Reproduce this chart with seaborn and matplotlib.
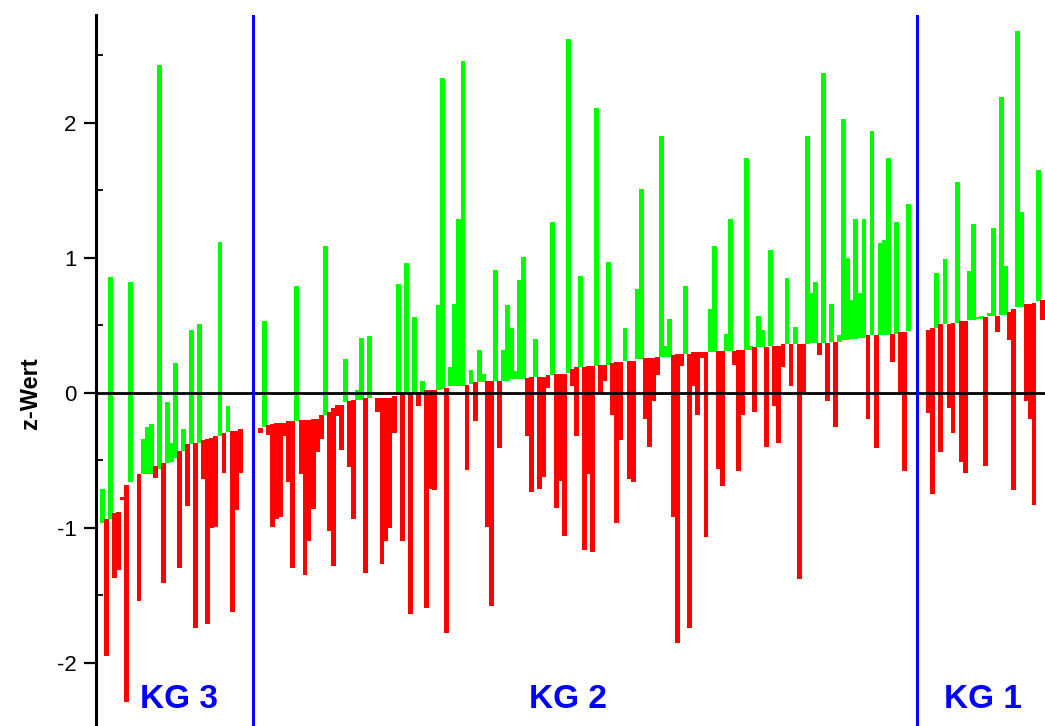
import numpy as np
import pandas as pd
import matplotlib
matplotlib.use("Agg")
import matplotlib.pyplot as plt
from matplotlib.ticker import MultipleLocator
import seaborn as sns

# ---------------- data (z-values: start value -> end value per subject) ----------------
kg3_base = [-0.96, -0.93, -0.93, -0.89, -0.88, -0.77, -0.68, -0.66, -0.62, -0.60,
            -0.60, -0.60, -0.60, -0.54, -0.56, -0.52, -0.52, -0.51, -0.48, -0.43,
            -0.43, -0.38, -0.38, -0.37, -0.37, -0.35, -0.34, -0.33, -0.32, -0.32,
            -0.30, -0.29, -0.28, -0.28, -0.27]
kg3_end = [-0.71, -1.95, 0.86, -1.37, -1.31, -0.79, -2.29, 0.82, -0.62, -1.54,
           -0.34, -0.25, -0.23, -0.63, 2.43, -1.41, -0.07, -0.37, 0.22, -1.30,
           -0.27, -0.84, 0.47, -1.74, 0.51, -0.64, -1.71, -1.00, -0.99, 1.12,
           -0.59, -0.10, -1.62, -0.87, -0.59]

kg2_base = [-0.26, -0.25, -0.24, -0.23, -0.22, -0.22, -0.22, -0.21, -0.21, -0.21,
            -0.20, -0.20, -0.20, -0.19, -0.19, -0.16, -0.16, -0.14, -0.11, -0.09,
            -0.09, -0.07, -0.06, -0.05, -0.05, -0.05, -0.04, -0.04, -0.04, -0.04,
            -0.04, -0.04, -0.04, -0.02, 0.00, 0.00, 0.00, 0.00, 0.00, 0.01,
            0.01, 0.02, 0.02, 0.02, 0.02, 0.03, 0.04, 0.05, 0.05, 0.05,
            0.05, 0.06, 0.07, 0.08, 0.08, 0.08, 0.09, 0.09, 0.09, 0.09,
            0.09, 0.09, 0.10, 0.10, 0.10, 0.10, 0.11, 0.12, 0.12, 0.12,
            0.12, 0.13, 0.13, 0.14, 0.14, 0.14, 0.15, 0.18, 0.19, 0.19,
            0.19, 0.20, 0.20, 0.20, 0.21, 0.21, 0.21, 0.22, 0.23, 0.23,
            0.24, 0.24, 0.24, 0.25, 0.25, 0.26, 0.26, 0.26, 0.27, 0.27,
            0.27, 0.27, 0.28, 0.29, 0.29, 0.29, 0.29, 0.30, 0.30, 0.30,
            0.30, 0.30, 0.30, 0.31, 0.31, 0.31, 0.31, 0.31, 0.32, 0.32,
            0.32, 0.32, 0.34, 0.34, 0.34, 0.34, 0.35, 0.35, 0.35, 0.36,
            0.36, 0.36, 0.36, 0.36, 0.36, 0.36, 0.37, 0.37, 0.37, 0.37,
            0.37, 0.38, 0.38, 0.38, 0.39, 0.39, 0.40, 0.40, 0.41, 0.41,
            0.43, 0.43, 0.43, 0.43, 0.43, 0.43, 0.44, 0.44, 0.45, 0.45,
            0.46]
kg2_end = [-0.30, 0.53, -0.31, -0.99, -0.93, -0.92, -0.32, -0.66, -1.30, 0.79,
           -0.60, -1.35, -1.10, -0.86, -0.44, -0.34, 1.09, -1.02, -1.28, -0.17,
           -0.42, 0.25, -0.55, -0.93, 0.02, 0.41, -1.33, 0.42, -0.04, -0.14,
           -1.27, -1.10, -1.00, -0.30, 0.81, -1.10, 0.96, -1.64, 0.56, -0.10,
           0.09, -1.59, -0.71, -0.72, 0.65, 2.33, -1.78, 0.19, 0.66, 1.29,
           2.46, -0.57, 0.17, -0.21, 0.32, 0.14, -0.99, -1.58, 0.91, -0.41,
           0.32, 0.65, 0.48, 0.16, 0.84, 1.01, -0.32, -0.73, 0.40, -0.71,
           -0.62, 0.04, 1.27, -0.85, -0.65, -1.06, 2.62, 0.05, -0.32, 0.87,
           -1.16, -0.60, -1.18, 2.11, 0.00, 0.09, 0.97, -0.16, -0.96, -0.35,
           0.48, -0.64, -0.66, 0.77, 1.51, -0.19, -0.40, -0.06, 0.13, 1.90,
           0.35, 0.55, -0.92, -1.85, 0.20, 0.79, -1.74, 0.05, -0.16, 0.26,
           -1.07, 0.62, 1.09, -0.56, -0.69, 0.44, 1.29, 0.21, -0.58, -0.16,
           1.74, 0.35, -0.14, 0.57, 0.47, -0.40, 1.06, -0.10, -0.37, 0.19,
           0.85, 0.05, 0.49, -1.38, 0.01, 1.90, 0.74, 0.82, 0.28, 2.37,
           -0.06, 0.66, -0.25, 0.43, 2.03, 1.00, 0.69, 1.29, 0.74, 1.29,
           -0.19, 1.94, -0.41, 1.11, 1.13, 1.74, 0.23, 1.27, 0.00, -0.58,
           1.40]

kg1_base = [0.47, 0.48, 0.48, 0.51, 0.51, 0.51, 0.52, 0.52, 0.53, 0.53,
            0.54, 0.54, 0.55, 0.55, 0.56, 0.57, 0.57, 0.57, 0.58, 0.58,
            0.60, 0.62, 0.64, 0.64, 0.66, 0.66, 0.67, 0.68, 0.69]
kg1_end = [-0.15, -0.75, 0.89, -0.44, 0.99, -0.11, -0.30, 1.56, -0.51, -0.59,
           0.90, 1.25, 0.56, 0.57, -0.54, 0.59, 1.22, 0.45, 2.19, 0.94,
           0.39, -0.72, 2.68, 1.34, -0.06, -0.19, -0.83, 1.65, 0.54]

group_names = ["KG 3", "KG 2", "KG 1"]

# ---------------- build table ----------------
groups = [(kg3_base, kg3_end), (kg2_base, kg2_end), (kg1_base, kg1_end)]
gap = 4
rows = []
start = 0
starts = []
for name, (b, e) in zip(group_names, groups):
    starts.append(start)
    for i, (bb, ee) in enumerate(zip(b, e)):
        rows.append(dict(group=name, pos=start + i, base=bb, end=ee))
    start += len(b) + gap
df = pd.DataFrame(rows)
df["delta"] = df["end"] - df["base"]
df["dir"] = np.where(df["delta"] >= 0, "up", "down")

# ---------------- plot ----------------
sns.set_theme(style="white")
plt.rcParams['font.family'] = ['Liberation Sans', 'DejaVu Sans']

fig = plt.figure(figsize=(10.45, 7.26), dpi=100)
ax = fig.add_axes([96 / 1045, 0.0, (1045 - 96) / 1045, (726 - 15) / 726])

colors = {"up": "#00ff00", "down": "#ff0000"}
for d in ["up", "down"]:
    sub = df[df["dir"] == d].sort_values("pos")
    sns.barplot(data=sub, x="pos", y="delta", bottom=sub["base"].values,
                native_scale=True, orient="x", color=colors[d], saturation=1,
                width=1.2, errorbar=None, linewidth=0, edgecolor="none", ax=ax)

ax.axhline(0, color="black", lw=2, zorder=5)
sep1 = starts[1] - 1.8
sep2 = starts[2] - 3.0
for s in (sep1, sep2):
    ax.axvline(s, color="#0000ff", lw=2.2, zorder=6)

ax.set_xlim(-1.6, 232.7)
ax.set_ylim(-2.467, 2.8)

label_x = [(starts[0] + starts[0] + len(kg3_base) - 1) / 2 + 2,
           (starts[1] + starts[1] + len(kg2_base) - 1) / 2 - 4,
           (starts[2] + starts[2] + len(kg1_base) - 1) / 2 - 0.5]
for name, lx in zip(group_names, label_x):
    ax.text(lx, -2.27, name, color="#0000ff", fontsize=24, fontweight="bold",
            ha="center", va="center", zorder=7)

for sp in ["top", "right", "bottom"]:
    ax.spines[sp].set_visible(False)
ax.spines["left"].set_color("black")
ax.spines["left"].set_linewidth(2.2)

ax.set_xticks([])
ax.set_xlabel("")
ax.yaxis.set_major_locator(MultipleLocator(1))
ax.yaxis.set_minor_locator(MultipleLocator(0.5))
ax.tick_params(axis="y", which="major", direction="out", length=9, width=1.6,
               labelsize=16, colors="black", left=True, pad=5)
ax.tick_params(axis="y", which="minor", direction="in", length=5, width=1.3,
               left=True, colors="black")
ax.set_yticks([-2, -1, 0, 1, 2])
ax.set_yticklabels(["-2", "-1", "0", "1", "2"])
ax.set_ylabel("z-Wert", fontsize=17, fontweight="bold", color="black")
ax.yaxis.set_label_coords(-0.057, 0.468)
ax.grid(False)
ax.set_facecolor("white")

fig.savefig("out.png", dpi=100)
